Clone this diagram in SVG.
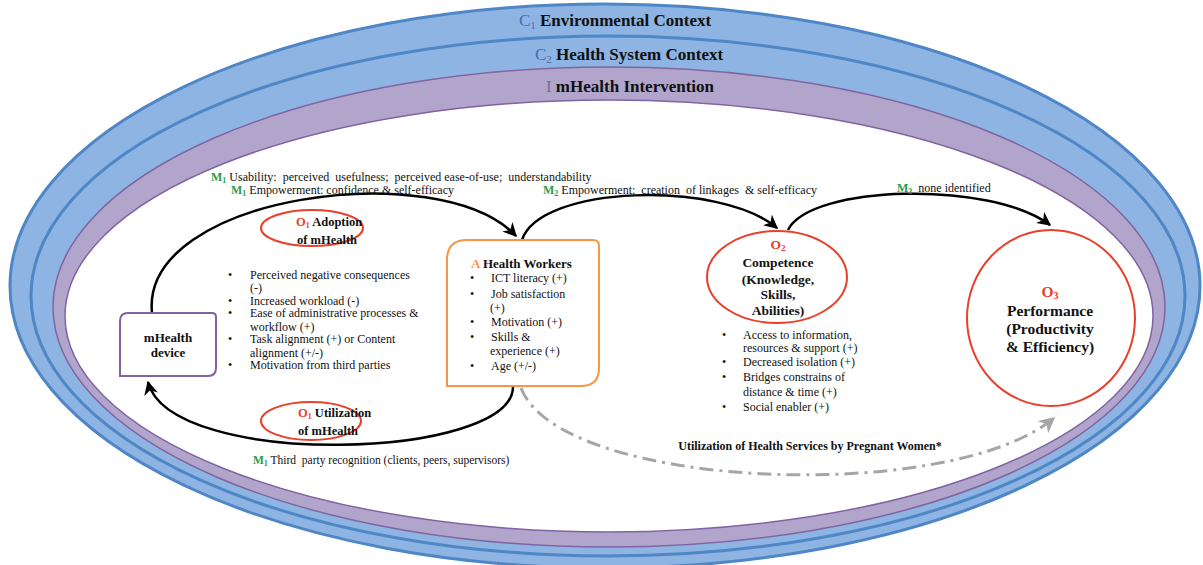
<svg xmlns="http://www.w3.org/2000/svg" width="1203" height="565" viewBox="0 0 1203 565">
<style>
  text { font-family: "Liberation Serif", "Times New Roman", serif; fill: #111; }
  .hdr { font-size: 17px; font-weight: bold; }
  .b { font-weight: bold; }
  .body { font-size: 12px; }
  .lbl { font-size: 12px; white-space: pre; }
  .m { fill: #2E9A4B; font-weight: bold; }
  .o { fill: #E8402B; }
  .conn { fill: none; stroke: #000; stroke-width: 2.5; }
  .dash { fill: none; stroke: #A6A6A6; stroke-width: 3; stroke-dasharray: 14 6 3 6; }
  .oval { fill: #fff; stroke: #E8402B; stroke-width: 2; }
</style>
<defs>
  <marker id="ah" markerUnits="userSpaceOnUse" markerWidth="14" markerHeight="14" viewBox="0 0 10 10" refX="9" refY="5" orient="auto">
    <path d="M0,0 L10,5 L0,10 L3,5 z" fill="#000"/>
  </marker>
  <marker id="ahg" markerUnits="userSpaceOnUse" markerWidth="16" markerHeight="16" viewBox="0 0 10 10" refX="9" refY="5" orient="auto">
    <path d="M0,0 L10,5 L0,10 L3,5 z" fill="#A6A6A6"/>
  </marker>
</defs>
<rect width="1203" height="565" fill="#fff"/>

<g id="contexts">
  <ellipse cx="605" cy="286" rx="595" ry="282" fill="#8DB4E2" stroke="#4F86C6" stroke-width="3"/>
  <ellipse cx="608" cy="296" rx="577" ry="260" fill="#8DB4E2" stroke="#4F86C6" stroke-width="3"/>
  <ellipse cx="609" cy="307" rx="556" ry="240" fill="#B2A5CB" stroke="#8064A2" stroke-width="1.5"/>
  <ellipse cx="609" cy="316" rx="544" ry="216" fill="#fff" stroke="#8064A2" stroke-width="1.5"/>
  <text class="hdr" x="615" y="26" text-anchor="middle"><tspan fill="#4A6DB5" font-weight="normal">C<tspan font-size="11" dy="3">1</tspan></tspan><tspan dy="-3"> Environmental Context</tspan></text>
  <text class="hdr" x="629" y="60" text-anchor="middle"><tspan fill="#4A6DB5" font-weight="normal">C<tspan font-size="11" dy="3">2</tspan></tspan><tspan dy="-3"> Health System Context</tspan></text>
  <text class="hdr" x="630" y="92" text-anchor="middle"><tspan fill="#7E6A99" font-weight="normal">I</tspan> mHealth Intervention</text>
</g>

<g id="connectors">
  <path class="conn" d="M152,313 C140,195 440,155 516,236" marker-end="url(#ah)"/>
  <path class="conn" d="M522,240 C540,185 720,180 777,228" marker-end="url(#ah)"/>
  <path class="conn" d="M788,230 C810,185 990,180 1050,225" marker-end="url(#ah)"/>
  <path class="conn" d="M513,386 C515,460 170,470 148,382" marker-end="url(#ah)"/>
  <path class="dash" d="M521,388 C560,490 950,505 1054,418" marker-end="url(#ahg)"/>
  <text class="lbl" x="211" y="181"><tspan class="m">M<tspan font-size="8" dy="2">1</tspan></tspan><tspan dy="-2"> Usability:  perceived  usefulness;  perceived ease-of-use;  understandability</tspan></text>
  <text class="lbl" x="231" y="194"><tspan class="m">M<tspan font-size="8" dy="2">1</tspan></tspan><tspan dy="-2"> Empowerment: confidence &amp; self-efficacy</tspan></text>
  <text class="lbl" x="543" y="194"><tspan class="m">M<tspan font-size="8" dy="2">2</tspan></tspan><tspan dy="-2"> Empowerment:  creation  of linkages  &amp; self-efficacy</tspan></text>
  <text class="lbl" x="897" y="192"><tspan class="m">M<tspan font-size="8" dy="2">3</tspan></tspan><tspan dy="-2">  none identified</tspan></text>
  <text class="lbl" font-size="11.5" style="font-size:11.5px" x="253" y="464"><tspan class="m">M<tspan font-size="8" dy="2">1</tspan></tspan><tspan dy="-2"> Third  party recognition (clients, peers, supervisors)</tspan></text>
  <text class="lbl b" x="810" y="450" text-anchor="middle">Utilization of Health Services by Pregnant Women*</text>
</g>

<g id="adoption">
  <ellipse class="oval" cx="312" cy="228" rx="51" ry="18"/>
  <text class="b" font-size="12.5" x="296" y="226"><tspan class="o">O<tspan font-size="8" dy="2">1</tspan></tspan><tspan dy="-2"> Adoption</tspan></text>
  <text class="b" font-size="12.5" x="297" y="244">of mHealth</text>
</g>

<g id="utilization">
  <ellipse class="oval" cx="311" cy="421" rx="50" ry="19"/>
  <text class="b" font-size="12.5" x="298" y="417"><tspan class="o">O<tspan font-size="8" dy="2">1</tspan></tspan><tspan dy="-2"> Utilization</tspan></text>
  <text class="b" font-size="12.5" x="298" y="435">of mHealth</text>
</g>

<g id="device">
  <path d="M128,313 L212,313 Q216,313 216,317 L216,368 Q216,376 208,376 L120,376 L120,321 Q120,313 128,313 Z" fill="#fff" stroke="#8064A2" stroke-width="2"/>
  <text class="b" font-size="13" x="168" y="342" text-anchor="middle">mHealth</text>
  <text class="b" font-size="13" x="168" y="357" text-anchor="middle">device</text>
</g>

<g id="adoption-factors" class="body">
  <text x="228" y="279">•</text><text x="250" y="279">Perceived negative consequences</text>
  <text x="250" y="292">(-)</text>
  <text x="228" y="305">•</text><text x="250" y="305">Increased workload (-)</text>
  <text x="228" y="317">•</text><text x="250" y="317">Ease of administrative processes &amp;</text>
  <text x="250" y="331">workflow (+)</text>
  <text x="228" y="343">•</text><text x="250" y="343">Task alignment (+) or Content</text>
  <text x="250" y="357">alignment (+/-)</text>
  <text x="228" y="369">•</text><text x="250" y="369">Motivation from third parties</text>
</g>

<g id="health-workers">
  <path d="M467,240 L593,240 Q599,240 599,246 L599,368 Q599,386 581,386 L447,386 L447,260 Q447,240 467,240 Z" fill="#fff" stroke="#F79646" stroke-width="2"/>
  <text class="b" font-size="13" x="471" y="268"><tspan fill="#F79646">A</tspan> Health Workers</text>
  <g class="body">
    <text x="470" y="282">•</text><text x="491" y="282">ICT literacy (+)</text>
    <text x="470" y="298">•</text><text x="491" y="298">Job satisfaction</text>
    <text x="490" y="312">(+)</text>
    <text x="470" y="326">•</text><text x="491" y="326">Motivation (+)</text>
    <text x="470" y="341">•</text><text x="491" y="341">Skills &amp;</text>
    <text x="490" y="355">experience (+)</text>
    <text x="470" y="370">•</text><text x="491" y="370">Age (+/-)</text>
  </g>
</g>

<g id="competence">
  <ellipse class="oval" cx="777" cy="277" rx="70" ry="46"/>
  <text class="b o" font-size="13.5" x="778" y="249" text-anchor="middle">O<tspan font-size="9" dy="2">2</tspan></text>
  <text class="b" font-size="13.5" x="778" y="267" text-anchor="middle">Competence</text>
  <text class="b" font-size="13.5" x="778" y="284" text-anchor="middle">(Knowledge,</text>
  <text class="b" font-size="13.5" x="778" y="299" text-anchor="middle">Skills,</text>
  <text class="b" font-size="13.5" x="778" y="315" text-anchor="middle">Abilities)</text>
  <g class="body">
    <text x="722" y="339">•</text><text x="743" y="339">Access to information,</text>
    <text x="743" y="352">resources &amp; support (+)</text>
    <text x="722" y="366">•</text><text x="743" y="366">Decreased isolation (+)</text>
    <text x="722" y="381">•</text><text x="743" y="381">Bridges constrains of</text>
    <text x="743" y="396">distance &amp; time (+)</text>
    <text x="722" y="411">•</text><text x="743" y="411">Social enabler (+)</text>
  </g>
</g>

<g id="performance">
  <ellipse class="oval" cx="1051" cy="318" rx="84" ry="88"/>
  <text class="b o" font-size="15.5" x="1050" y="297" text-anchor="middle">O<tspan font-size="10" dy="2">3</tspan></text>
  <text class="b" font-size="15.5" x="1050" y="316" text-anchor="middle">Performance</text>
  <text class="b" font-size="15.5" x="1050" y="334" text-anchor="middle">(Productivity</text>
  <text class="b" font-size="15.5" x="1050" y="352" text-anchor="middle">&amp; Efficiency)</text>
</g>
</svg>
